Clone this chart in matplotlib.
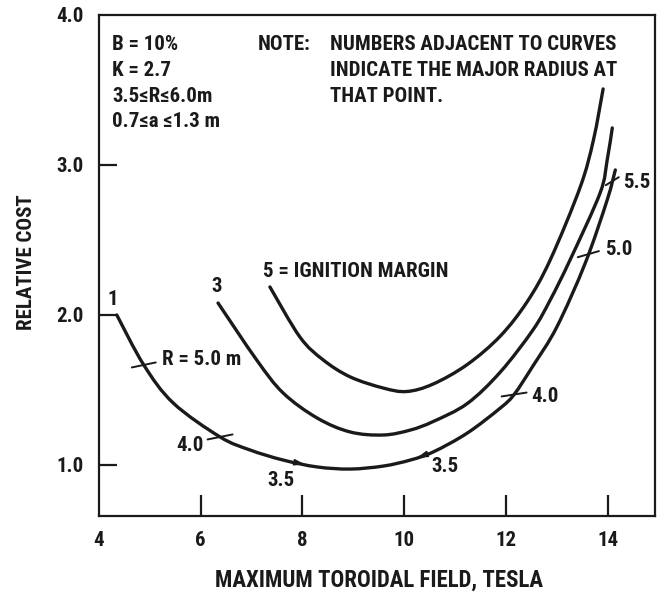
import numpy as np
import matplotlib
matplotlib.use("Agg")
import matplotlib.pyplot as plt
from matplotlib import font_manager as fm
from matplotlib.transforms import ScaledTranslation
from matplotlib.path import Path
from matplotlib.patches import PathPatch

# pick a condensed sans face if one is installed
_names = {f.name for f in fm.fontManager.ttflist}
if 'Roboto Condensed' in _names:
    FONT, FS = ['Roboto Condensed', 'DejaVu Sans'], 15
elif 'Liberation Sans Narrow' in _names:
    FONT, FS = ['Liberation Sans Narrow', 'DejaVu Sans'], 15
else:
    FONT, FS = ['Liberation Sans', 'DejaVu Sans'], 13
plt.rcParams['font.family'] = FONT
XL_FS = FS * 1.1

# ---- data ----
curve1_x = [4.35, 4.88, 5.46, 6.38, 6.97, 7.62, 8.29, 8.94, 9.59, 10.12, 10.57, 11.24, 11.89, 12.16, 12.53, 13.0, 13.56, 13.99, 14.15]
curve1_y = [2.00, 1.667, 1.413, 1.187, 1.10, 1.033, 0.987, 0.973, 0.993, 1.033, 1.087, 1.213, 1.38, 1.47, 1.66, 1.92, 2.347, 2.767, 2.967]

curve3_x = [6.34, 7.10, 7.62, 8.29, 8.94, 9.59, 10.12, 10.57, 11.24, 11.89, 12.53, 12.87, 13.26, 13.85, 13.99, 14.09]
curve3_y = [2.08, 1.70, 1.48, 1.313, 1.22, 1.20, 1.233, 1.29, 1.41, 1.62, 1.90, 2.10, 2.367, 2.813, 3.033, 3.247]

curve5_x = [7.36, 7.95, 8.41, 8.94, 9.59, 10.05, 10.57, 11.24, 11.89, 12.42, 12.87, 13.46, 13.72, 13.91]
curve5_y = [2.187, 1.853, 1.70, 1.587, 1.513, 1.49, 1.54, 1.67, 1.86, 2.09, 2.367, 2.853, 3.167, 3.507]

curve_labels = ['1', '3', '5 = IGNITION MARGIN']

# major radius markers along curve 1
radius_x = [4.88, 6.38, 8.05, 10.25, 12.16, 13.62, 14.09]
radius_labels = ['R = 5.0 m', '4.0', '3.5', '3.5', '4.0', '5.0', '5.5']

x_ticks = [4, 6, 8, 10, 12, 14]
y_ticks = [1.0, 2.0, 3.0, 4.0]
y_ticklabels = ['1.0', '2.0', '3.0', '4.0']

params_text = ['B = 10%', 'K = 2.7', '3.5\u2264R\u22646.0m', '0.7\u2264a \u22641.3 m']
note_text = ['NUMBERS ADJACENT TO CURVES', 'INDICATE THE MAJOR RADIUS AT', 'THAT POINT.']


def smooth_path(xs, ys):
    """Cubic Bezier path passing through every given point (Catmull-Rom tangents)."""
    p = np.column_stack([xs, ys]).astype(float)
    n = len(p)
    verts = [p[0]]
    codes = [Path.MOVETO]
    for i in range(n - 1):
        p0 = p[i - 1] if i > 0 else p[i]
        p1, p2 = p[i], p[i + 1]
        p3 = p[i + 2] if i + 2 < n else p[i + 1]
        c1 = p1 + (p2 - p0) / 6.0
        c2 = p2 - (p3 - p1) / 6.0
        verts += [c1, c2, p2]
        codes += [Path.CURVE4] * 3
    return Path(np.array(verts), codes)


# ---- figure ----
W, H = 661, 595
fig = plt.figure(figsize=(W / 100, H / 100), dpi=100)
ax = fig.add_axes([99 / W, 1 - 516 / H, (655 - 99) / W, (516 - 15) / H])
ax.set_xlim(4, 14.93)
ax.set_ylim(0.66, 4.0)

lw = 2.4
col = '#1a1a1a'
for cx, cy in [(curve1_x, curve1_y), (curve3_x, curve3_y), (curve5_x, curve5_y)]:
    ax.add_patch(PathPatch(smooth_path(cx, cy), fill=False, edgecolor=col, lw=lw,
                           capstyle='round', joinstyle='round'))

for s in ax.spines.values():
    s.set_linewidth(1.6)
    s.set_color(col)

ax.set_xticks(x_ticks)
ax.set_xticklabels([str(v) for v in x_ticks])
ax.set_yticks(y_ticks)
ax.set_yticklabels(y_ticklabels)
ax.tick_params(direction='in', length=13, width=1.6, colors=col, labelsize=FS, pad=11)
ax.tick_params(axis='x', length=15)
for lab in ax.get_xticklabels() + ax.get_yticklabels():
    lab.set_fontweight('bold')
ax.xaxis.get_major_ticks()[0].tick1line.set_visible(False)
ax.yaxis.get_major_ticks()[-1].tick1line.set_visible(False)

tkw = dict(fontsize=FS, fontweight='bold', color=col)

# curve labels
starts = [(curve1_x[0], curve1_y[0]), (curve3_x[0], curve3_y[0]), (curve5_x[0], curve5_y[0])]
offs = [((-3, 11), 'center'), ((-1, 12), 'center'), ((-5, 11), 'left')]
for lbl, (sx, sy), ((ox, oy), ha) in zip(curve_labels, starts, offs):
    ax.annotate(lbl, xy=(sx, sy), xytext=(ox, oy), textcoords='offset points',
                ha=ha, va='center', **tkw)

# radius markers: short ticks crossing curve 1, then text
half = [(8.6, 1.8), (9.0, 1.8), None, None, (9.0, 1.4), (7.6, 2.2), (4.7, 2.9)]
text_off = [((13, 3.6), 'left'), ((-12, -6.5), 'right'), ((-17, -11.5), 'center'),
            ((20, -6.5), 'center'), ((12, -1.2), 'left'), ((12, 3.6), 'left'), ((8, -0.7), 'left')]
for i, (rx, rl) in enumerate(zip(radius_x, radius_labels)):
    ry = float(np.interp(rx, curve1_x, curve1_y))
    if half[i] is not None:
        dx, dy = half[i]
        t1 = ax.transData + ScaledTranslation(dx / 72, dy / 72, fig.dpi_scale_trans)
        t2 = ax.transData + ScaledTranslation(-dx / 72, -dy / 72, fig.dpi_scale_trans)
        ax.annotate('', xy=(rx, ry), xycoords=t1, xytext=(rx, ry), textcoords=t2,
                    arrowprops=dict(arrowstyle='-', lw=1.4, color=col, shrinkA=0, shrinkB=0))
    else:
        direction = 1 if i == 2 else -1
        x0 = rx - direction * 0.25
        y0 = float(np.interp(x0, curve1_x, curve1_y))
        ax.annotate('', xy=(rx, ry), xytext=(x0, y0),
                    arrowprops=dict(arrowstyle='-|>,head_length=0.6,head_width=0.18', lw=1.2,
                                    color=col, shrinkA=0, shrinkB=0))
    (ox, oy), ha = text_off[i]
    ax.annotate(rl, xy=(rx, ry), xytext=(ox, oy), textcoords='offset points',
                ha=ha, va='center', **tkw)

# parameter block
for k, t in enumerate(params_text):
    fig.text(112 / W, 1 - (44 + 26 * k) / H, t, ha='left', va='center', **tkw)

# note block
fig.text(258 / W, 1 - 44 / H, 'NOTE:', ha='left', va='center', **tkw)
for k, t in enumerate(note_text):
    fig.text(330 / W, 1 - (44 + 26 * k) / H, t, ha='left', va='center', **tkw)

# axis labels
fig.text(379 / W, 1 - 580 / H, 'MAXIMUM TOROIDAL FIELD, TESLA', ha='center', va='center',
         fontsize=XL_FS, fontweight='bold', color=col)
fig.text(27 / W, 1 - 262 / H, 'RELATIVE COST', ha='center', va='center', rotation=90, **tkw)

fig.savefig('out.png', dpi=100)
